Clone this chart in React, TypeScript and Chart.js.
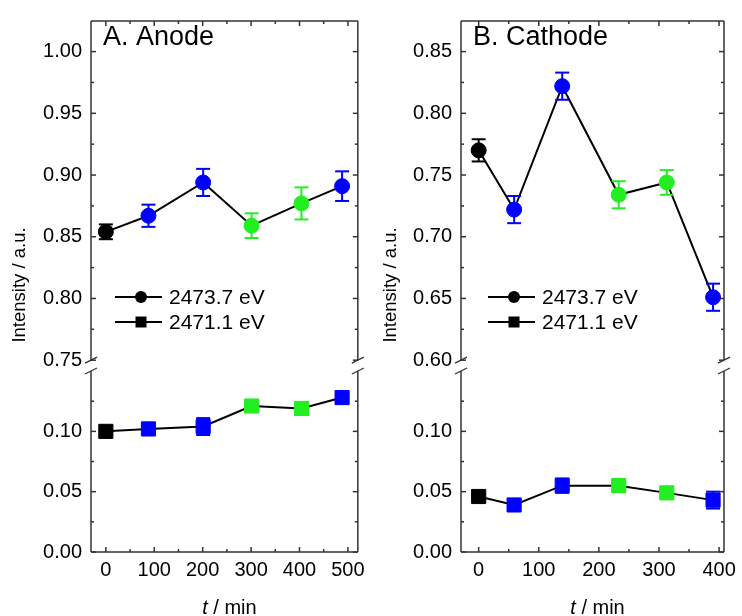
import React, { useEffect, useRef } from 'react';
import { Chart, registerables } from 'chart.js';

Chart.register(...registerables);

// ---------- data ----------
const SERIES_HIGH_LABEL = '2473.7 eV';
const SERIES_LOW_LABEL = '2471.1 eV';

const ANODE_T = [0, 88, 201, 301, 404, 488];
const ANODE_I_HIGH = [0.854, 0.867, 0.894, 0.859, 0.877, 0.891];
const ANODE_ERR_HIGH = [0.006, 0.009, 0.011, 0.01, 0.013, 0.012];
const ANODE_I_LOW = [0.1, 0.102, 0.104, 0.121, 0.119, 0.128];
const ANODE_ERR_LOW = [0.002, 0.003, 0.007, 0.002, 0.005, 0.002];
const ANODE_COLORS = ['#000000', '#0000ff', '#0000ff', '#22ee22', '#22ee22', '#0000ff'];

const CATHODE_T = [0, 59, 139, 233, 313, 390];
const CATHODE_I_HIGH = [0.77, 0.722, 0.822, 0.734, 0.744, 0.651];
const CATHODE_ERR_HIGH = [0.009, 0.011, 0.011, 0.011, 0.01, 0.011];
const CATHODE_I_LOW = [0.046, 0.039, 0.055, 0.055, 0.049, 0.043];
const CATHODE_ERR_LOW = [0.002, 0.003, 0.006, 0.005, 0.002, 0.007];
const CATHODE_COLORS = ['#000000', '#0000ff', '#0000ff', '#22ee22', '#22ee22', '#0000ff'];

const ANODE_X_TICKS = [0, 100, 200, 300, 400, 500];
const CATHODE_X_TICKS = [0, 100, 200, 300, 400];
const ANODE_Y_HIGH_TICKS = [0.75, 0.8, 0.85, 0.9, 0.95, 1.0];
const CATHODE_Y_HIGH_TICKS = [0.6, 0.65, 0.7, 0.75, 0.8, 0.85];
const Y_LOW_TICKS = [0, 0.05, 0.1];
const Y_LOW_TOP = 0.15;

const FONT = '"Liberation Sans", Arial, sans-serif';
const FRAME = '#333333';

type Spec = {
  title: string;
  t: number[];
  iHigh: number[];
  errHigh: number[];
  iLow: number[];
  errLow: number[];
  colors: string[];
  xMin: number;
  xMax: number;
  xTicks: number[];
  highTicks: number[];
  highMin: number;
  highMax: number;
  padLeftArea: number;
  padRight: number;
  legendX: number;
  yTitleX: number;
};

const W = 371;
const H = 616;
const AREA_TOP = 15;
const AREA_BOTTOM = 552;

function line(ctx: CanvasRenderingContext2D, x1: number, y1: number, x2: number, y2: number) {
  ctx.beginPath();
  ctx.moveTo(x1, y1);
  ctx.lineTo(x2, y2);
  ctx.stroke();
}

function makeConfig(p: Spec): any {
  const high = p.t.map((x, i) => ({ x, y: p.iHigh[i] }));
  const low = p.t.map((x, i) => ({ x, y: p.iLow[i] }));

  const decor = {
    id: 'decor',
    afterDatasetsDraw(chart: any) {
      const ctx: CanvasRenderingContext2D = chart.ctx;
      const xs = chart.scales.x;
      const sets: [number[], number[], any][] = [
        [p.iHigh, p.errHigh, chart.scales.yHigh],
        [p.iLow, p.errLow, chart.scales.yLow],
      ];
      ctx.save();
      ctx.lineWidth = 2;
      for (const [vals, errs, ys] of sets) {
        vals.forEach((v, i) => {
          const px = xs.getPixelForValue(p.t[i]);
          const top = ys.getPixelForValue(v + errs[i]);
          const bot = ys.getPixelForValue(v - errs[i]);
          ctx.strokeStyle = p.colors[i];
          line(ctx, px, top, px, bot);
          line(ctx, px - 7, top, px + 7, top);
          line(ctx, px - 7, bot, px + 7, bot);
        });
      }
      ctx.restore();
    },
    afterDraw(chart: any) {
      const ctx: CanvasRenderingContext2D = chart.ctx;
      const a = chart.chartArea;
      const xs = chart.scales.x;
      const yH = chart.scales.yHigh;
      const yL = chart.scales.yLow;
      ctx.save();
      ctx.strokeStyle = FRAME;
      ctx.lineWidth = 1.5;
      const hb = yH.getPixelForValue(p.highTicks[0]);
      const lt = yL.getPixelForValue(Y_LOW_TOP);
      line(ctx, a.left, a.top, a.right, a.top);
      line(ctx, a.left, a.bottom, a.right, a.bottom);
      for (const sx of [a.left, a.right]) {
        line(ctx, sx, a.top, sx, hb);
        line(ctx, sx, lt, sx, a.bottom);
        ctx.lineWidth = 1.3;
        line(ctx, sx - 6, hb + 3, sx + 6, hb - 3);
        line(ctx, sx - 6, lt + 3, sx + 6, lt - 3);
        ctx.lineWidth = 1.5;
      }
      // y ticks
      const yTick = (ys: any, v: number, len: number) => {
        const py = ys.getPixelForValue(v);
        line(ctx, a.left, py, a.left + len, py);
        line(ctx, a.right, py, a.right - len, py);
      };
      p.highTicks.forEach((v, i) => {
        yTick(yH, v, 5);
        if (i < p.highTicks.length - 1) yTick(yH, (v + p.highTicks[i + 1]) / 2, 3);
      });
      Y_LOW_TICKS.forEach((v) => {
        yTick(yL, v, 5);
        yTick(yL, v + 0.025, 3);
      });
      // x ticks
      const xTick = (v: number, len: number) => {
        const px = xs.getPixelForValue(v);
        if (px < a.left || px > a.right) return;
        line(ctx, px, a.bottom, px, a.bottom - len);
        line(ctx, px, a.top, px, a.top + len);
      };
      p.xTicks.forEach((v) => {
        xTick(v, 5);
        xTick(v + 50, 3);
      });

      // panel title
      ctx.fillStyle = '#000';
      ctx.textBaseline = 'alphabetic';
      ctx.textAlign = 'left';
      ctx.font = `27px ${FONT}`;
      ctx.fillText(p.title, a.left + 12, 45);

      // legend
      const lx = p.legendX;
      const rows: [string, string, number][] = [
        [SERIES_HIGH_LABEL, 'circle', 297],
        [SERIES_LOW_LABEL, 'rect', 322],
      ];
      ctx.font = `21px ${FONT}`;
      ctx.textBaseline = 'middle';
      for (const [label, style, ly] of rows) {
        ctx.strokeStyle = '#000';
        ctx.lineWidth = 2;
        line(ctx, lx, ly, lx + 47, ly);
        ctx.fillStyle = '#000';
        if (style === 'circle') {
          ctx.beginPath();
          ctx.arc(lx + 26, ly, 6, 0, Math.PI * 2);
          ctx.fill();
        } else {
          ctx.fillRect(lx + 26 - 5.5, ly - 5.5, 11, 11);
        }
        ctx.fillText(label, lx + 54, ly + 1);
      }

      // y title
      ctx.save();
      ctx.translate(p.yTitleX, 285);
      ctx.rotate(-Math.PI / 2);
      ctx.textAlign = 'center';
      ctx.textBaseline = 'middle';
      ctx.font = `18.5px ${FONT}`;
      ctx.fillText('Intensity / a.u.', 0, 0);
      ctx.restore();

      // x title
      ctx.font = `italic 20px ${FONT}`;
      const tW = ctx.measureText('t').width;
      ctx.font = `20px ${FONT}`;
      const rest = ' / min';
      const rW = ctx.measureText(rest).width;
      const cx = (a.left + a.right) / 2 + 5;
      const x0 = cx - (tW + rW) / 2;
      ctx.textAlign = 'left';
      ctx.textBaseline = 'middle';
      ctx.font = `italic 20px ${FONT}`;
      ctx.fillText('t', x0, 608);
      ctx.font = `20px ${FONT}`;
      ctx.fillText(rest, x0 + tW, 608);
      ctx.restore();
    },
  };

  const tickFont = { family: FONT, size: 20 };

  return {
    type: 'line',
    data: {
      datasets: [
        {
          label: SERIES_HIGH_LABEL,
          data: high,
          yAxisID: 'yHigh',
          borderColor: '#000',
          borderWidth: 2,
          pointStyle: 'circle',
          pointRadius: 7.5,
          pointBorderWidth: 1,
          pointBackgroundColor: p.colors,
          pointBorderColor: p.colors,
          tension: 0,
        },
        {
          label: SERIES_LOW_LABEL,
          data: low,
          yAxisID: 'yLow',
          borderColor: '#000',
          borderWidth: 2,
          pointStyle: 'rect',
          pointRadius: 10,
          pointBorderWidth: 1,
          pointBackgroundColor: p.colors,
          pointBorderColor: p.colors,
          tension: 0,
        },
      ],
    },
    options: {
      animation: false,
      responsive: false,
      devicePixelRatio: 1,
      events: [],
      layout: { padding: { left: 0, right: p.padRight, top: AREA_TOP, bottom: 0 } },
      plugins: { legend: { display: false }, tooltip: { enabled: false } },
      scales: {
        x: {
          type: 'linear',
          position: 'bottom',
          min: p.xMin,
          max: p.xMax,
          afterBuildTicks: (s: any) => {
            s.ticks = p.xTicks.map((v) => ({ value: v }));
          },
          afterFit: (s: any) => {
            s.height = H - AREA_BOTTOM;
          },
          grid: { display: false, drawTicks: false },
          border: { display: false },
          ticks: { font: tickFont, color: '#000', padding: 6, autoSkip: false, maxRotation: 0, callback: (v: any) => String(v) },
        },
        yLow: {
          type: 'linear',
          position: 'left',
          stack: 'y',
          stackWeight: 188.5,
          min: 0,
          max: 0.1545,
          afterBuildTicks: (s: any) => {
            s.ticks = Y_LOW_TICKS.map((v) => ({ value: v }));
          },
          afterFit: (s: any) => {
            s.width = p.padLeftArea;
          },
          grid: { display: false, drawTicks: false },
          border: { display: false },
          ticks: { font: tickFont, color: '#000', padding: 9, autoSkip: false, callback: (v: any) => Number(v).toFixed(2) },
        },
        yHigh: {
          type: 'linear',
          position: 'left',
          stack: 'y',
          stackWeight: 348.5,
          min: p.highMin,
          max: p.highMax,
          afterBuildTicks: (s: any) => {
            s.ticks = p.highTicks.map((v) => ({ value: v }));
          },
          afterFit: (s: any) => {
            s.width = p.padLeftArea;
          },
          grid: { display: false, drawTicks: false },
          border: { display: false },
          ticks: { font: tickFont, color: '#000', padding: 9, autoSkip: false, callback: (v: any) => Number(v).toFixed(2) },
        },
      },
    },
    plugins: [decor],
  };
}

const ANODE_SPEC: Spec = {
  title: 'A. Anode',
  t: ANODE_T,
  iHigh: ANODE_I_HIGH,
  errHigh: ANODE_ERR_HIGH,
  iLow: ANODE_I_LOW,
  errLow: ANODE_ERR_LOW,
  colors: ANODE_COLORS,
  xMin: -30.7,
  xMax: 520.5,
  xTicks: ANODE_X_TICKS,
  highTicks: ANODE_Y_HIGH_TICKS,
  highMin: 0.7456,
  highMax: 1.0248,
  padLeftArea: 91,
  padRight: W - 360,
  legendX: 115,
  yTitleX: 19.5,
};

const CATHODE_SPEC: Spec = {
  title: 'B. Cathode',
  t: CATHODE_T,
  iHigh: CATHODE_I_HIGH,
  errHigh: CATHODE_ERR_HIGH,
  iLow: CATHODE_I_LOW,
  errLow: CATHODE_ERR_LOW,
  colors: CATHODE_COLORS,
  xMin: -29.4,
  xMax: 408.2,
  xTicks: CATHODE_X_TICKS,
  highTicks: CATHODE_Y_HIGH_TICKS,
  highMin: 0.5956,
  highMax: 0.8748,
  padLeftArea: 90,
  padRight: W - 358,
  legendX: 117,
  yTitleX: 20,
};

function Panel({ spec, left }: { spec: Spec; left: number }) {
  const ref = useRef<HTMLCanvasElement>(null);
  useEffect(() => {
    const chart = new Chart(ref.current as HTMLCanvasElement, makeConfig(spec));
    return () => chart.destroy();
  }, [spec]);
  return (
    <canvas
      ref={ref}
      width={W}
      height={H}
      style={{ position: 'absolute', left, top: 0, width: W, height: H }}
    />
  );
}

export default function App() {
  return (
    <div style={{ position: 'absolute', left: 0, top: 0, width: 742, height: 616, background: '#fff' }}>
      <Panel spec={ANODE_SPEC} left={0} />
      <Panel spec={CATHODE_SPEC} left={371} />
    </div>
  );
}
